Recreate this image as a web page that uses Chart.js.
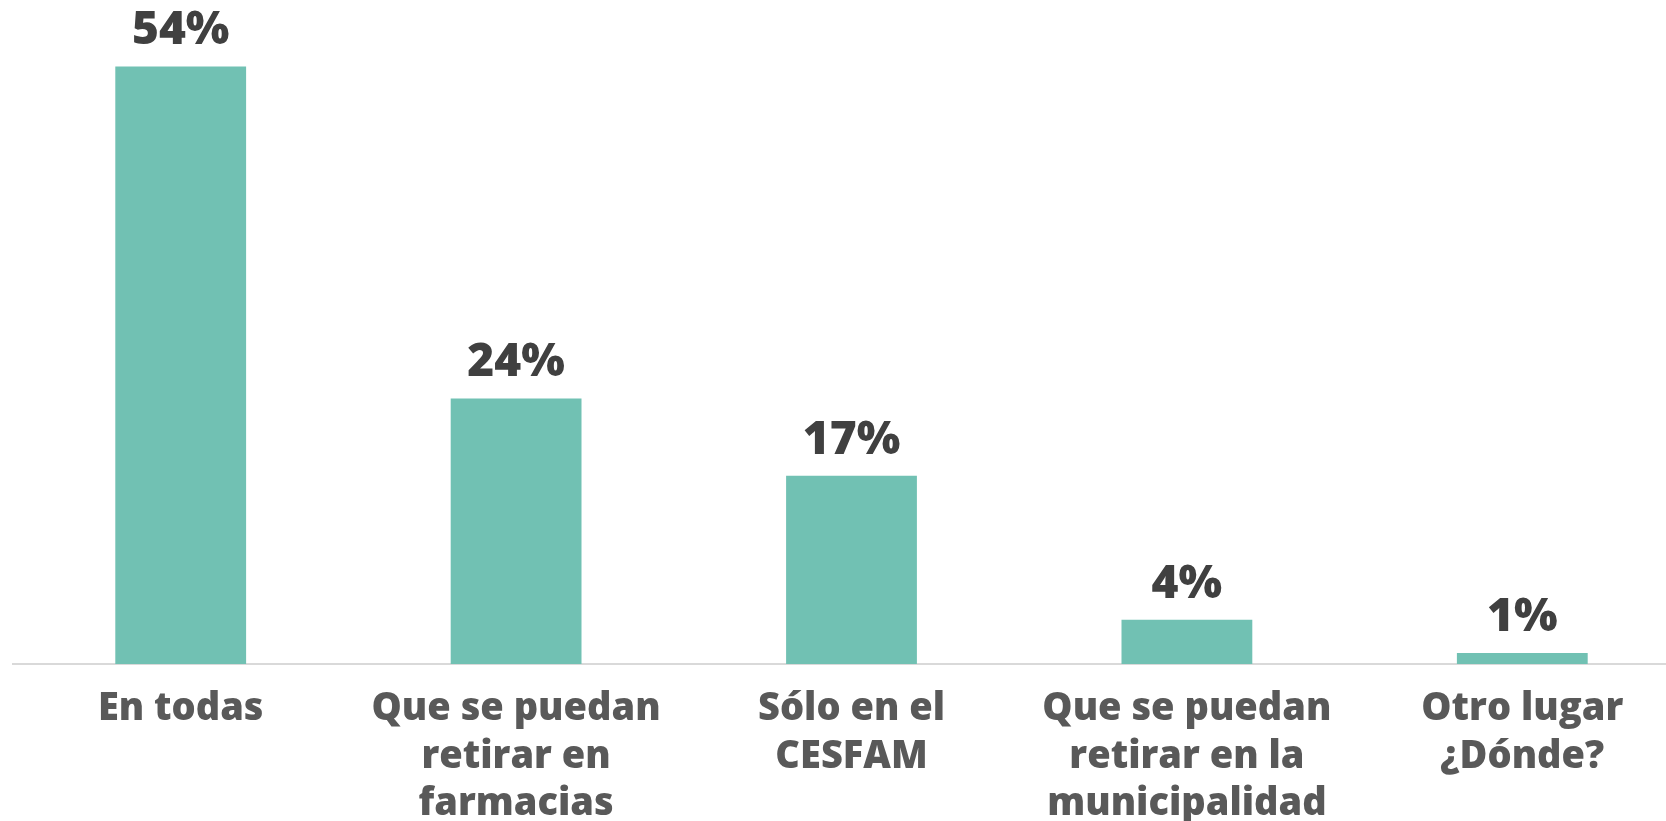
<!DOCTYPE html>
<html>
<head>
<meta charset="utf-8">
<script src="https://cdn.jsdelivr.net/npm/chart.js@4/dist/chart.umd.min.js"></script>
<style>
  html, body { margin: 0; padding: 0; background: #ffffff; overflow: hidden; }
  #wrap { position: relative; width: 1666px; height: 821px; overflow: hidden; }
  #box { position: absolute; left: 0; top: 0; width: 1690px; height: 821px; }
</style>
</head>
<body>
<div id="wrap"><div id="box"><canvas id="c"></canvas></div></div>
<script>
const categories = [
  ["En todas"],
  ["Que se puedan", "retirar en", "farmacias"],
  ["Sólo en el", "CESFAM"],
  ["Que se puedan", "retirar en la", "municipalidad"],
  ["Otro lugar", "¿Dónde?"]
];
const values = [54, 24, 17, 4, 1];
const valueLabels = ["54%", "24%", "17%", "4%", "1%"];

const FONT = "'Open Sans', 'Liberation Sans', sans-serif";

const labelPlugin = {
  id: 'valueLabels',
  afterDatasetsDraw(chart) {
    const ctx = chart.ctx;
    const meta = chart.getDatasetMeta(0);
    ctx.save();
    ctx.font = "800 46px " + FONT;
    ctx.fillStyle = "#404040";
    ctx.textAlign = "center";
    ctx.textBaseline = "alphabetic";
    meta.data.forEach((bar, i) => {
      ctx.fillText(valueLabels[i], bar.x, bar.y - 22);
    });
    ctx.restore();
  }
};

new Chart(document.getElementById('c'), {
  type: 'bar',
  data: {
    labels: categories,
    datasets: [{
      data: values,
      backgroundColor: '#71c1b3',
      borderWidth: 0,
      categoryPercentage: 1.0,
      barPercentage: 0.39
    }]
  },
  options: {
    responsive: true,
    maintainAspectRatio: false,
    animation: false,
    layout: { padding: { left: 13, right: 0, top: 0, bottom: 0 } },
    plugins: { legend: { display: false }, tooltip: { enabled: false } },
    scales: {
      y: {
        display: false,
        min: 0,
        max: 60
      },
      x: {
        grid: { display: false, drawTicks: false },
        border: { display: true, color: '#d9d9d9', width: 2 },
        ticks: {
          color: '#595959',
          font: { family: FONT, size: 38, weight: '800', lineHeight: 1.24 },
          padding: 22,
          maxRotation: 0,
          autoSkip: false
        },
        afterFit(scale) { scale.height = 157; }
      }
    }
  },
  plugins: [labelPlugin]
});
</script>
</body>
</html>
